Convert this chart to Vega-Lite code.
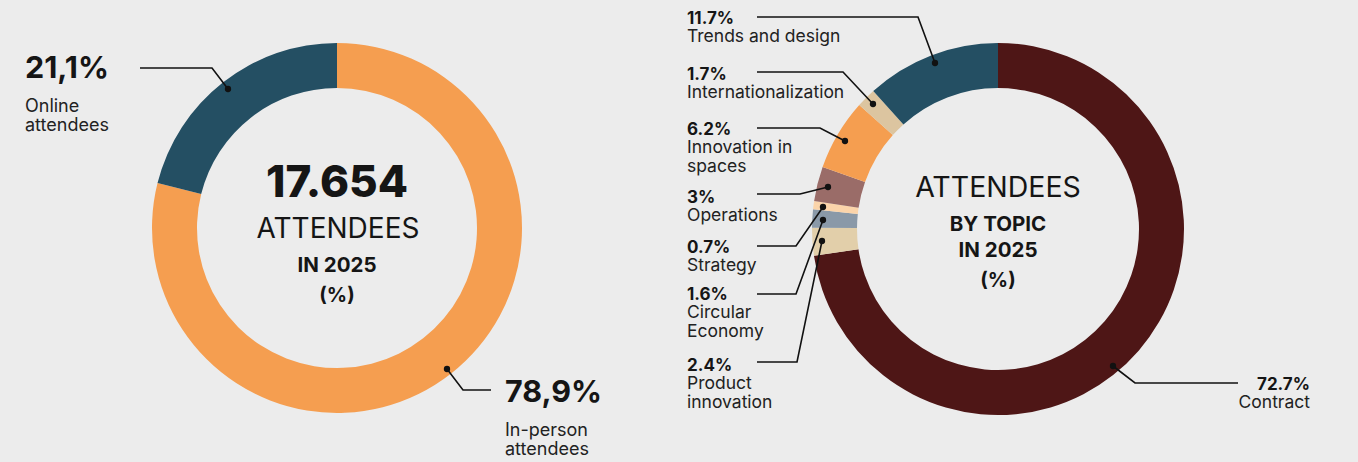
{
  "$schema": "https://vega.github.io/schema/vega-lite/v6.json",
  "background": "#ececec",
  "padding": {"left": 0, "top": 0, "right": 36, "bottom": 4},
  "spacing": 0,
  "bounds": "flush",
  "resolve": {"scale": {"color": "independent", "theta": "independent", "x": "independent", "y": "independent"}},
  "config": {
    "view": {"stroke": null},
    "font": "Inter",
    "text": {"font": "Inter", "color": "#151515"}
  },
  "datasets": {
    "visitors": [
      {"type": "In-person attendees", "share": 78.9, "rank": 1},
      {"type": "Online attendees", "share": 21.1, "rank": 2}
    ],
    "visitorNotes": [
      {"type": "Online attendees", "pct": "21,1%", "desc": "Online\nattendees", "px": 25, "py": 78},
      {"type": "In-person attendees", "pct": "78,9%", "desc": "In-person\nattendees", "px": 505, "py": 402}
    ],
    "visitorLeaders": [
      {"type": "Online attendees", "seq": 1, "px": 228, "py": 89},
      {"type": "Online attendees", "seq": 2, "px": 212, "py": 68},
      {"type": "Online attendees", "seq": 3, "px": 140, "py": 68},
      {"type": "In-person attendees", "seq": 1, "px": 447, "py": 369},
      {"type": "In-person attendees", "seq": 2, "px": 463, "py": 390},
      {"type": "In-person attendees", "seq": 3, "px": 491, "py": 390}
    ],
    "topics": [
      {"topic": "Contract", "share": 72.7, "rank": 1},
      {"topic": "Product innovation", "share": 2.4, "rank": 2},
      {"topic": "Circular Economy", "share": 1.6, "rank": 3},
      {"topic": "Strategy", "share": 0.7, "rank": 4},
      {"topic": "Operations", "share": 3, "rank": 5},
      {"topic": "Innovation in spaces", "share": 6.2, "rank": 6},
      {"topic": "Internationalization", "share": 1.7, "rank": 7},
      {"topic": "Trends and design", "share": 11.7, "rank": 8}
    ],
    "topicNotes": [
      {"topic": "Trends and design", "pct": "11.7%", "desc": "Trends and design", "px": 13, "py": 24},
      {"topic": "Internationalization", "pct": "1.7%", "desc": "Internationalization", "px": 13, "py": 80},
      {"topic": "Innovation in spaces", "pct": "6.2%", "desc": "Innovation in\nspaces", "px": 13, "py": 135},
      {"topic": "Operations", "pct": "3%", "desc": "Operations", "px": 13, "py": 203},
      {"topic": "Strategy", "pct": "0.7%", "desc": "Strategy", "px": 13, "py": 253},
      {"topic": "Circular Economy", "pct": "1.6%", "desc": "Circular\nEconomy", "px": 13, "py": 300},
      {"topic": "Product innovation", "pct": "2.4%", "desc": "Product\ninnovation", "px": 13, "py": 371},
      {"topic": "Contract", "pct": "72.7%", "desc": "Contract", "px": 636, "py": 390}
    ],
    "topicLeaders": [
      {"topic": "Trends and design", "seq": 1, "px": 261, "py": 63},
      {"topic": "Trends and design", "seq": 2, "px": 244, "py": 17},
      {"topic": "Trends and design", "seq": 3, "px": 83, "py": 17},
      {"topic": "Internationalization", "seq": 1, "px": 199, "py": 104},
      {"topic": "Internationalization", "seq": 2, "px": 169, "py": 72},
      {"topic": "Internationalization", "seq": 3, "px": 83, "py": 72},
      {"topic": "Innovation in spaces", "seq": 1, "px": 171, "py": 141},
      {"topic": "Innovation in spaces", "seq": 2, "px": 146, "py": 128},
      {"topic": "Innovation in spaces", "seq": 3, "px": 83, "py": 128},
      {"topic": "Operations", "seq": 1, "px": 154, "py": 187},
      {"topic": "Operations", "seq": 2, "px": 126, "py": 194},
      {"topic": "Operations", "seq": 3, "px": 83, "py": 194},
      {"topic": "Strategy", "seq": 1, "px": 149, "py": 207},
      {"topic": "Strategy", "seq": 2, "px": 122, "py": 246},
      {"topic": "Strategy", "seq": 3, "px": 83, "py": 246},
      {"topic": "Circular Economy", "seq": 1, "px": 149, "py": 220},
      {"topic": "Circular Economy", "seq": 2, "px": 122, "py": 294},
      {"topic": "Circular Economy", "seq": 3, "px": 83, "py": 294},
      {"topic": "Product innovation", "seq": 1, "px": 148, "py": 241},
      {"topic": "Product innovation", "seq": 2, "px": 123, "py": 362},
      {"topic": "Product innovation", "seq": 3, "px": 83, "py": 362},
      {"topic": "Contract", "seq": 1, "px": 439, "py": 366},
      {"topic": "Contract", "seq": 2, "px": 461, "py": 383},
      {"topic": "Contract", "seq": 3, "px": 564, "py": 383}
    ]
  },
  "hconcat": [
    {
      "width": 674,
      "height": 456,
      "layer": [
        {
          "data": {"name": "visitors"},
          "mark": {"type": "arc", "outerRadius": 185, "innerRadius": 140},
          "encoding": {
            "theta": {"field": "share", "type": "quantitative", "stack": true},
            "order": {"field": "rank", "type": "quantitative"},
            "color": {
              "field": "type", "type": "nominal", "legend": null,
              "scale": {"domain": ["In-person attendees", "Online attendees"], "range": ["#f59e50", "#244f63"]}
            }
          }
        },
        {
          "data": {"name": "visitorLeaders"},
          "mark": {"type": "line", "color": "#111111", "strokeWidth": 1.6},
          "encoding": {
            "x": {"field": "px", "type": "quantitative", "axis": null, "scale": {"domain": [0, 674], "nice": false, "zero": false}},
            "y": {"field": "py", "type": "quantitative", "axis": null, "scale": {"domain": [0, 456], "nice": false, "zero": false, "reverse": true}},
            "detail": {"field": "type"},
            "order": {"field": "seq", "type": "quantitative"}
          }
        },
        {
          "data": {"name": "visitorLeaders"},
          "transform": [{"filter": "datum.seq == 1"}],
          "mark": {"type": "point", "filled": true, "color": "#111111", "opacity": 1, "size": 40},
          "encoding": {
            "x": {"field": "px", "type": "quantitative", "axis": null, "scale": {"domain": [0, 674], "nice": false, "zero": false}},
            "y": {"field": "py", "type": "quantitative", "axis": null, "scale": {"domain": [0, 456], "nice": false, "zero": false, "reverse": true}}
          }
        },
        {
          "data": {"name": "visitorNotes"},
          "mark": {"type": "text", "align": "left", "baseline": "alphabetic", "fontSize": 30.5, "fontWeight": 700},
          "encoding": {
            "x": {"field": "px", "type": "quantitative", "axis": null, "scale": {"domain": [0, 674], "nice": false, "zero": false}},
            "y": {"field": "py", "type": "quantitative", "axis": null, "scale": {"domain": [0, 456], "nice": false, "zero": false, "reverse": true}},
            "text": {"field": "pct"}
          }
        },
        {
          "data": {"name": "visitorNotes"},
          "mark": {"type": "text", "align": "left", "baseline": "alphabetic", "fontSize": 18, "fontWeight": 400, "dy": 34, "lineBreak": "\n", "lineHeight": 18.5, "color": "#222222"},
          "encoding": {
            "x": {"field": "px", "type": "quantitative", "axis": null, "scale": {"domain": [0, 674], "nice": false, "zero": false}},
            "y": {"field": "py", "type": "quantitative", "axis": null, "scale": {"domain": [0, 456], "nice": false, "zero": false, "reverse": true}},
            "text": {"field": "desc"}
          }
        },
        {
          "data": {"values": [{"heading": "17.654"}]},
          "mark": {"type": "text", "align": "center", "baseline": "alphabetic", "fontSize": 44, "fontWeight": 800, "dy": -31},
          "encoding": {"text": {"field": "heading"}}
        },
        {
          "data": {"values": [{"heading": "ATTENDEES"}]},
          "mark": {"type": "text", "align": "center", "baseline": "alphabetic", "fontSize": 28, "fontWeight": 400, "dx": 1, "dy": 10},
          "encoding": {"text": {"field": "heading"}}
        },
        {
          "data": {"values": [{"heading": "IN 2025"}]},
          "mark": {"type": "text", "align": "center", "baseline": "alphabetic", "fontSize": 20.5, "fontWeight": 700, "dy": 44},
          "encoding": {"text": {"field": "heading"}}
        },
        {
          "data": {"values": [{"heading": "(%)"}]},
          "mark": {"type": "text", "align": "center", "baseline": "alphabetic", "fontSize": 20, "fontWeight": 700, "dy": 74},
          "encoding": {"text": {"field": "heading"}}
        }
      ]
    },
    {
      "width": 648,
      "height": 458,
      "layer": [
        {
          "data": {"name": "topics"},
          "mark": {"type": "arc", "outerRadius": 186, "innerRadius": 141},
          "encoding": {
            "theta": {"field": "share", "type": "quantitative", "stack": true},
            "order": {"field": "rank", "type": "quantitative"},
            "color": {
              "field": "topic", "type": "nominal", "legend": null,
              "scale": {
                "domain": ["Contract", "Product innovation", "Circular Economy", "Strategy", "Operations", "Innovation in spaces", "Internationalization", "Trends and design"],
                "range": ["#4e1616", "#e2cfaa", "#8a99a8", "#fbd4aa", "#9a6c68", "#f59e50", "#dcc5a0", "#244f63"]
              }
            }
          }
        },
        {
          "data": {"name": "topicLeaders"},
          "mark": {"type": "line", "color": "#111111", "strokeWidth": 1.6},
          "encoding": {
            "x": {"field": "px", "type": "quantitative", "axis": null, "scale": {"domain": [0, 648], "nice": false, "zero": false}},
            "y": {"field": "py", "type": "quantitative", "axis": null, "scale": {"domain": [0, 458], "nice": false, "zero": false, "reverse": true}},
            "detail": {"field": "topic"},
            "order": {"field": "seq", "type": "quantitative"}
          }
        },
        {
          "data": {"name": "topicLeaders"},
          "transform": [{"filter": "datum.seq == 1"}],
          "mark": {"type": "point", "filled": true, "color": "#111111", "opacity": 1, "size": 40},
          "encoding": {
            "x": {"field": "px", "type": "quantitative", "axis": null, "scale": {"domain": [0, 648], "nice": false, "zero": false}},
            "y": {"field": "py", "type": "quantitative", "axis": null, "scale": {"domain": [0, 458], "nice": false, "zero": false, "reverse": true}}
          }
        },
        {
          "data": {"name": "topicNotes"},
          "transform": [{"filter": "datum.topic != 'Contract'"}],
          "mark": {"type": "text", "align": "left", "baseline": "alphabetic", "fontSize": 17, "fontWeight": 700},
          "encoding": {
            "x": {"field": "px", "type": "quantitative", "axis": null, "scale": {"domain": [0, 648], "nice": false, "zero": false}},
            "y": {"field": "py", "type": "quantitative", "axis": null, "scale": {"domain": [0, 458], "nice": false, "zero": false, "reverse": true}},
            "text": {"field": "pct"}
          }
        },
        {
          "data": {"name": "topicNotes"},
          "transform": [{"filter": "datum.topic != 'Contract'"}],
          "mark": {"type": "text", "align": "left", "baseline": "alphabetic", "fontSize": 17.5, "fontWeight": 400, "dy": 17.5, "lineBreak": "\n", "lineHeight": 19.5, "color": "#222222"},
          "encoding": {
            "x": {"field": "px", "type": "quantitative", "axis": null, "scale": {"domain": [0, 648], "nice": false, "zero": false}},
            "y": {"field": "py", "type": "quantitative", "axis": null, "scale": {"domain": [0, 458], "nice": false, "zero": false, "reverse": true}},
            "text": {"field": "desc"}
          }
        },
        {
          "data": {"name": "topicNotes"},
          "transform": [{"filter": "datum.topic == 'Contract'"}],
          "mark": {"type": "text", "align": "right", "baseline": "alphabetic", "fontSize": 17, "fontWeight": 700},
          "encoding": {
            "x": {"field": "px", "type": "quantitative", "axis": null, "scale": {"domain": [0, 648], "nice": false, "zero": false}},
            "y": {"field": "py", "type": "quantitative", "axis": null, "scale": {"domain": [0, 458], "nice": false, "zero": false, "reverse": true}},
            "text": {"field": "pct"}
          }
        },
        {
          "data": {"name": "topicNotes"},
          "transform": [{"filter": "datum.topic == 'Contract'"}],
          "mark": {"type": "text", "align": "right", "baseline": "alphabetic", "fontSize": 17.5, "fontWeight": 400, "dy": 17.5, "color": "#222222"},
          "encoding": {
            "x": {"field": "px", "type": "quantitative", "axis": null, "scale": {"domain": [0, 648], "nice": false, "zero": false}},
            "y": {"field": "py", "type": "quantitative", "axis": null, "scale": {"domain": [0, 458], "nice": false, "zero": false, "reverse": true}},
            "text": {"field": "desc"}
          }
        },
        {
          "data": {"values": [{"heading": "ATTENDEES"}]},
          "mark": {"type": "text", "align": "center", "baseline": "alphabetic", "fontSize": 28.5, "fontWeight": 400, "dy": -32},
          "encoding": {"text": {"field": "heading"}}
        },
        {
          "data": {"values": [{"heading": "BY TOPIC"}]},
          "mark": {"type": "text", "align": "center", "baseline": "alphabetic", "fontSize": 20.5, "fontWeight": 700, "dy": 2},
          "encoding": {"text": {"field": "heading"}}
        },
        {
          "data": {"values": [{"heading": "IN 2025"}]},
          "mark": {"type": "text", "align": "center", "baseline": "alphabetic", "fontSize": 20.5, "fontWeight": 700, "dy": 28},
          "encoding": {"text": {"field": "heading"}}
        },
        {
          "data": {"values": [{"heading": "(%)"}]},
          "mark": {"type": "text", "align": "center", "baseline": "alphabetic", "fontSize": 20, "fontWeight": 700, "dy": 58},
          "encoding": {"text": {"field": "heading"}}
        }
      ]
    }
  ]
}
